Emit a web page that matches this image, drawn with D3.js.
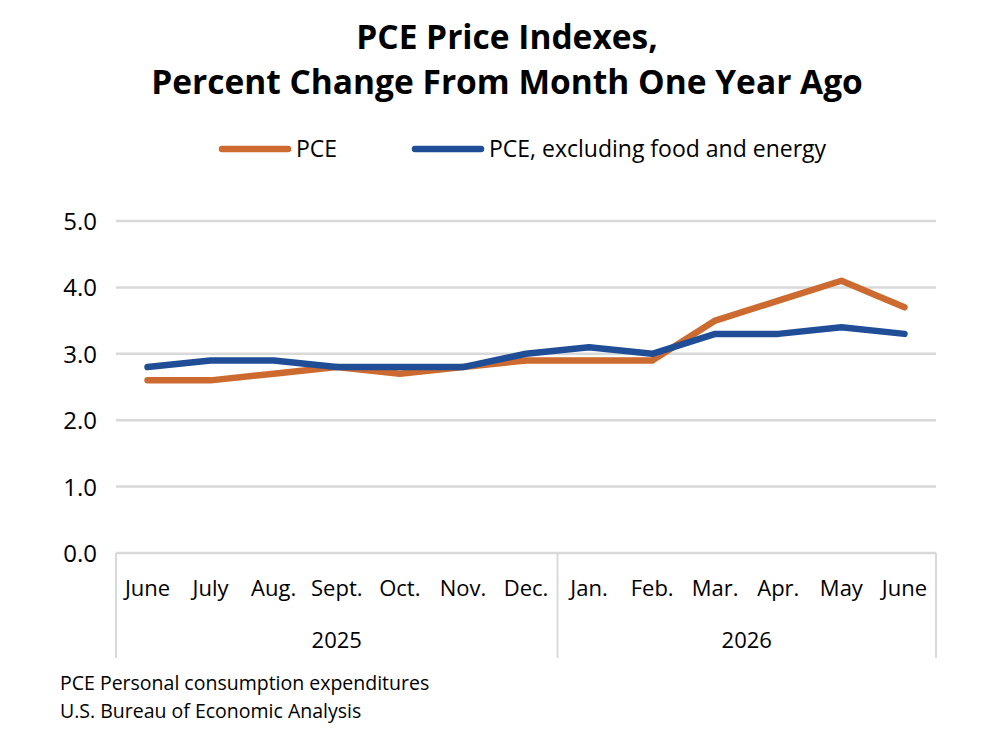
<html>
<head>
<meta charset="utf-8">
<style>
  body { margin: 0; background: #fff; }
  text { font-family: "Open Sans", sans-serif; fill: #000; }
</style>
</head>
<body>
<script src="https://d3js.org/d3.v7.min.js"></script>
<script>
  var months = ["June", "July", "Aug.", "Sept.", "Oct.", "Nov.", "Dec.", "Jan.", "Feb.", "Mar.", "Apr.", "May", "June"];
  var years = [{ label: "2025", from: 0, to: 7 }, { label: "2026", from: 7, to: 13 }];
  var pce = [2.6, 2.6, 2.7, 2.8, 2.7, 2.8, 2.9, 2.9, 2.9, 3.5, 3.8, 4.1, 3.7];
  var core = [2.8, 2.9, 2.9, 2.8, 2.8, 2.8, 3.0, 3.1, 3.0, 3.3, 3.3, 3.4, 3.3];
  var yTicks = [0, 1, 2, 3, 4, 5];

  var w = 1008, h = 752;
  var plotL = 116, plotR = 936, plotT = 221, plotB = 553;

  var svg = d3.select("body").append("svg").attr("width", w).attr("height", h);

  var x = d3.scaleBand().domain(d3.range(months.length)).range([plotL, plotR]);
  var y = d3.scaleLinear().domain([0, 5]).range([plotB, plotT]);

  // title
  svg.append("text").attr("x", 507).attr("y", 49).attr("text-anchor", "middle")
    .attr("font-size", "33.5px").attr("font-weight", "bold").text("PCE Price Indexes,");
  svg.append("text").attr("x", 507).attr("y", 94).attr("text-anchor", "middle")
    .attr("font-size", "33.5px").attr("font-weight", "bold").text("Percent Change From Month One Year Ago");

  // gridlines
  svg.selectAll("line.grid")
    .data(yTicks.slice(1))
    .enter().append("line")
    .attr("class", "grid")
    .attr("x1", plotL).attr("x2", plotR)
    .attr("y1", function(d){ return y(d); }).attr("y2", function(d){ return y(d); })
    .attr("stroke", "#d9d9d9").attr("stroke-width", 2.5);

  svg.selectAll("text.ytick")
    .data(yTicks)
    .enter().append("text")
    .attr("class", "ytick")
    .attr("x", 97).attr("y", function(d){ return y(d) + 9; })
    .attr("text-anchor", "end").attr("font-size", "24px")
    .text(function(d){ return d.toFixed(1); });

  // category axis
  svg.append("line").attr("x1", plotL).attr("x2", plotR).attr("y1", plotB).attr("y2", plotB)
    .attr("stroke", "#d9d9d9").attr("stroke-width", 2.5);
  var seps = [0, 7, 13];
  svg.selectAll("line.sep")
    .data(seps)
    .enter().append("line")
    .attr("class", "sep")
    .attr("x1", function(d){ return d < months.length ? x(d) : plotR; })
    .attr("x2", function(d){ return d < months.length ? x(d) : plotR; })
    .attr("y1", plotB).attr("y2", 658)
    .attr("stroke", "#d9d9d9").attr("stroke-width", 2);

  svg.selectAll("text.month")
    .data(months)
    .enter().append("text")
    .attr("class", "month")
    .attr("x", function(d, i){ return x(i) + x.bandwidth() / 2; })
    .attr("y", 596).attr("text-anchor", "middle").attr("font-size", "22px")
    .text(function(d){ return d; });

  svg.selectAll("text.year")
    .data(years)
    .enter().append("text")
    .attr("class", "year")
    .attr("x", function(d){ return (x(d.from) + (d.to < months.length ? x(d.to) : plotR)) / 2; })
    .attr("y", 648).attr("text-anchor", "middle").attr("font-size", "22px")
    .text(function(d){ return d.label; });

  // lines
  var line = d3.line()
    .x(function(d, i){ return x(i) + x.bandwidth() / 2; })
    .y(function(d){ return y(d); });

  var series = [{ name: "PCE", values: pce, color: "#CD6A2F" },
                { name: "PCE, excluding food and energy", values: core, color: "#1F4E97" }];

  series.forEach(function(s){
    svg.append("path").attr("d", line(s.values))
      .attr("fill", "none").attr("stroke", s.color).attr("stroke-width", 6.5)
      .attr("stroke-linecap", "round").attr("stroke-linejoin", "round");
  });

  // legend
  var legX = [222, 415];
  series.forEach(function(s, i){
    svg.append("line").attr("x1", legX[i]).attr("x2", legX[i] + 66).attr("y1", 149).attr("y2", 149)
      .attr("stroke", s.color).attr("stroke-width", 6.5).attr("stroke-linecap", "round");
    svg.append("text").attr("x", legX[i] + 74).attr("y", 157).attr("font-size", "23px").text(s.name);
  });

  // footer
  svg.append("text").attr("x", 60).attr("y", 690).attr("font-size", "19.5px").text("PCE Personal consumption expenditures");
  svg.append("text").attr("x", 60).attr("y", 718).attr("font-size", "19.5px").text("U.S. Bureau of Economic Analysis");
</script>
</body>
</html>
